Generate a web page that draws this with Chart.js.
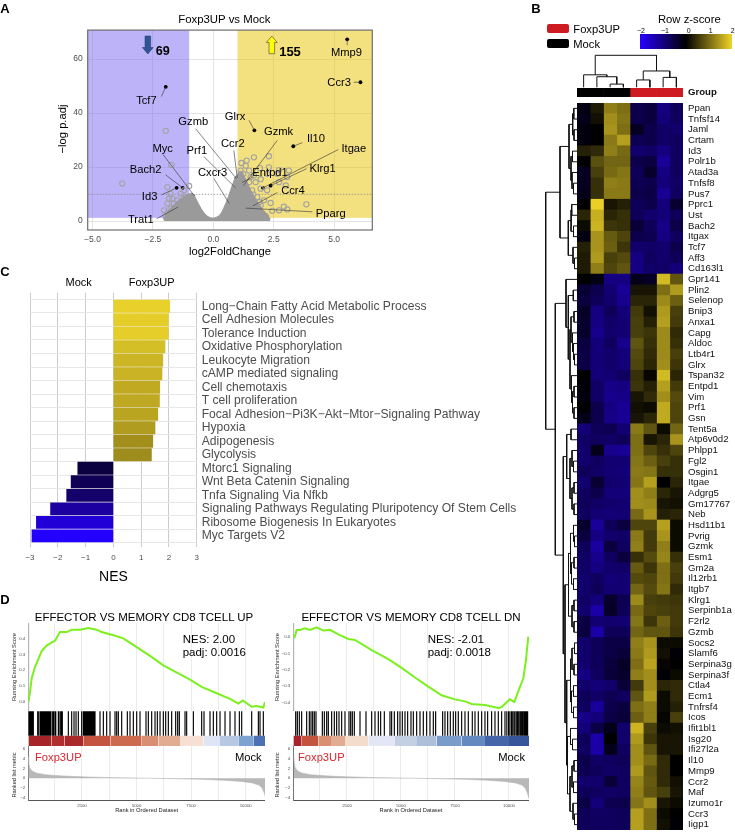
<!DOCTYPE html>
<html>
<head>
<meta charset="utf-8">
<title>Foxp3UP vs Mock</title>
<script src="https://cdn.jsdelivr.net/npm/chart.js@4/dist/chart.umd.js"></script>
<style>
html, body { margin: 0; padding: 0; background: #fff; }
#page { position: relative; width: 735px; height: 832px; overflow: hidden; font-family: "Liberation Sans", Arial, sans-serif; }
#page div { position: absolute; white-space: nowrap; }
#page canvas { position: absolute; }
</style>
</head>
<body>
<div id="page"></div>
<script>
// ---- Panel A, volcano ----
var volcanoGenes = ['Mmp9', 'Ccr3', 'Tcf7', 'Glrx', 'Gzmb', 'Ccr2', 'Prf1', 'Gzmk', 'Entpd1', 'Itgae', 'Klrg1', 'Il10', 'Ccr4', 'Pparg', 'Cxcr3', 'Myc', 'Bach2', 'Id3', 'Trat1'];
var volcanoFC = [5.54, 6.09, -1.97, 1.70, 0.95, 0.99, 0.92, 1.24, 1.19, 2.05, 2.37, 3.31, 1.63, 1.34, 0.66, -0.80, -1.27, -1.52, -1.46];
var volcanoP = [67.3, 51.4, 49.7, 33.6, 15.8, 16.0, 12.3, 13.1, 14.3, 12.3, 13.1, 27.7, 5.6, 4.8, 6.5, 9.5, 12.3, 12.3, 5.2];
var sigFC = [-1.97, -3.77, -1.74, -1.90, -1.00, -1.77, -1.83, -1.70, -1.90, -1.63, -2.04, -1.77, -1.35, -1.56, -1.90, -1.35, -1.21, -1.14, -1.28, -1.49, -1.70, -1.97,
  1.68, 2.30, 1.38, 1.16, 1.93, 2.30, 2.72, 3.13, 1.48, 1.68, 1.34, 1.13, 2.65, 3.06, 3.00, 2.72, 2.23, 1.96, 1.61, 1.48, 1.82, 1.48, 1.41, 2.10, 2.37, 1.96, 3.85, 2.92, 3.06, 2.72, 2.44, 2.17, 1.89, 1.82, 1.13, 1.24, 1.54, 1.75, 1.96, 2.23, 1.65, 1.90, 1.55, 1.70, 1.50];
var sigP = [33.4, 13.9, 20.8, 12.6, 13.0, 10.1, 8.3, 8.3, 6.5, 6.5, 4.0, 4.6, 6.5, 2.8, 2.8, 10.1, 11.4, 8.9, 4.0, 7.7, 1.6, 1.6,
  23.6, 24.0, 22.4, 21.5, 19.6, 19.9, 18.9, 18.7, 18.7, 16.9, 20.5, 18.7, 17.5, 16.3, 13.2, 14.4, 11.4, 12.0, 11.4, 14.4, 8.9, 8.9, 6.5, 7.7, 6.7, 5.9, 6.2, 5.3, 4.3, 4.0, 3.8, 1.8, 2.8, 4.6, 17.5, 17.5, 16.3, 14.4, 15.5, 17.5, 9.8, 7.0, 5.5, 3.5, 3.0];
// outline of the dense cloud of non significant genes
var cloudFC = [-2.06, -1.97, -1.85, -1.65, -1.44, -1.19, -0.94, -0.82, -0.69, -0.44, -0.24, 0, 0.26, 0.43, 0.63, 0.80, 0.96, 1.17, 1.42, 1.59, 1.79, 2.04, 2.25, 2.36];
var cloudP = [0.7, 2.2, 4.0, 5.9, 7.7, 9.2, 10.3, 9.9, 7.7, 3.7, 1.8, 1.1, 2.2, 4.8, 9.2, 13.6, 16.9, 18.0, 14.0, 10.6, 7.7, 4.4, 2.2, 0.7];
var volcanoXTicks = [-5, -2.5, 0, 2.5, 5];
var volcanoYTicks = [0, 20, 40, 60];

// ---- Panel B, heatmap ----
var heatGenes = ['Ppan', 'Tnfsf14', 'Jaml', 'Crtam', 'Id3', 'Polr1b', 'Atad3a', 'Tnfsf8', 'Pus7', 'Pprc1', 'Ust', 'Bach2', 'Itgax', 'Tcf7', 'Aff3', 'Cd163l1', 'Gpr141', 'Plin2', 'Selenop', 'Bnip3', 'Anxa1', 'Capg', 'Aldoc', 'Ltb4r1', 'Glrx', 'Tspan32', 'Entpd1', 'Vim', 'Prf1', 'Gsn', 'Tent5a', 'Atp6v0d2', 'Phlpp1', 'Fgl2', 'Osgin1', 'Itgae', 'Adgrg5', 'Gm17767', 'Neb', 'Hsd11b1', 'Pvrig', 'Gzmk', 'Esm1', 'Gm2a', 'Il12rb1', 'Itgb7', 'Klrg1', 'Serpinb1a', 'F2rl2', 'Gzmb', 'Socs2', 'Slamf6', 'Serpina3g', 'Serpina3f', 'Ctla4', 'Ecm1', 'Tnfrsf4', 'Icos', 'Ifit1bl1', 'Isg20', 'Ifi27l2a', 'Il10', 'Mmp9', 'Ccr2', 'Maf', 'Izumo1r', 'Ccr3', 'Iigp1'];
var heatZ = [
  [-0.15, 0.25, 1.2, 1.05, -0.6, -0.5, -1.0, -0.7],
  [-0.2, 0.15, 1.35, 1.1, -0.6, -0.5, -0.95, -0.75],
  [-0.1, 0, 1.4, 1.05, -0.25, -0.6, -0.8, -0.85],
  [-0.1, 0, 1.15, 1.5, -0.65, -0.6, -0.8, -0.75],
  [0.3, 0.4, 1.2, 1.0, -0.85, -0.8, -1.0, -0.75],
  [0, 0.75, 0.95, 0.95, -0.6, -0.5, -1.2, -0.75],
  [-0.25, 0.6, 1.0, 1.1, -0.7, -0.35, -1.0, -0.75],
  [-0.25, 0.45, 1.2, 1.15, -0.65, -0.6, -0.95, -0.8],
  [-0.2, 0.45, 1.15, 1.15, -0.6, -0.55, -1.15, -0.75],
  [0, 1.95, 0.2, 0.3, -0.7, -0.6, -0.95, -0.35],
  [0.35, 1.65, 0.35, 0.45, -0.7, -0.85, -0.95, -0.7],
  [0.1, 1.7, 0.5, 0.45, -0.45, -0.7, -1.05, -0.55],
  [-0.15, 1.4, 0.85, 0.65, -0.6, -0.65, -1.0, -0.75],
  [0.3, 1.4, 0.9, 0.5, -0.85, -0.8, -0.85, -0.6],
  [0.25, 1.45, 0.6, 0.7, -1.0, -0.75, -0.85, -0.7],
  [0.25, 1.2, 0.65, 0.8, -1.0, -0.8, -0.8, -0.95],
  [0, -0.15, -1.0, -1.0, -0.2, -0.3, 1.75, 0.8],
  [-0.4, -0.6, -0.9, -1.15, 0.2, 0.2, 1.05, 1.45],
  [-0.5, -0.7, -0.85, -1.1, 0.35, 0.35, 1.3, 0.9],
  [-0.3, -1.0, -0.7, -0.95, 0.55, 0.15, 1.45, 0.6],
  [-0.35, -1.0, -0.8, -0.9, 0.6, 0.3, 1.5, 0.55],
  [-0.35, -1.1, -0.85, -0.9, 0.6, 0.5, 1.3, 0.4],
  [-0.5, -0.95, -0.75, -1.1, 0.8, 0.45, 1.3, 0.45],
  [-0.55, -0.95, -0.85, -0.95, 0.7, 0.4, 1.3, 0.6],
  [-0.55, -0.95, -0.85, -0.95, 0.65, 0.35, 1.35, 0.5],
  [0, -0.95, -0.9, -0.75, 0.45, 0.05, 1.75, 0.35],
  [-0.05, -0.8, -1.05, -1.0, 0.5, 0.3, 1.5, 0.55],
  [-0.1, -0.8, -1.1, -1.05, 0.2, 0.4, 1.35, 0.7],
  [0, -0.6, -1.0, -1.15, 0.15, 0.1, 1.6, 0.65],
  [-0.2, -0.6, -1.05, -1.15, 0.2, 0.35, 1.6, 0.65],
  [-0.95, -0.7, -0.65, -0.9, 1.15, 0.8, 0.1, 0.95],
  [-0.8, -0.75, -0.8, -0.7, 1.05, 0.2, 0.35, 1.4],
  [-0.85, -0.2, -1.1, -1.15, 1.05, 0.65, 0.45, 0.65],
  [-0.85, -0.75, -0.9, -0.9, 1.1, 0.9, 0.6, 0.45],
  [-0.7, -0.8, -0.9, -0.95, 1.15, 1.1, 0.45, 0.45],
  [-0.9, -0.4, -0.85, -0.9, 1.1, 1.5, 0, 0.35],
  [-0.75, -0.6, -0.95, -0.95, 1.35, 1.2, 0.35, 0.2],
  [-0.7, -0.8, -0.85, -0.9, 1.35, 1.3, 0.2, 0.15],
  [-0.75, -0.9, -0.95, -0.9, 1.0, 1.4, 0.3, 0.35],
  [-0.35, -1.2, -0.7, -0.5, 0.65, 0.65, 1.5, 0.1],
  [-0.5, -1.0, -0.85, -0.8, 1.15, 0.55, 1.4, 0.1],
  [-0.7, -1.25, -0.5, -0.75, 1.2, 0.55, 1.2, 0.1],
  [-0.8, -1.1, -0.75, -0.5, 0.45, 0.7, 1.25, 0.45],
  [-0.8, -1.0, -0.85, -0.8, 0.85, 0.5, 1.05, 0.6],
  [-0.85, -0.75, -0.95, -0.9, 0.7, 0.65, 1.05, 0.55],
  [-0.85, -0.7, -0.9, -0.9, 0.95, 0.7, 1.1, 0.4],
  [-0.8, -0.95, -0.35, -0.65, 1.3, 0.6, 0.55, 0.5],
  [-0.85, -1.3, -0.3, -0.7, 1.0, 0.65, 0.6, 0.55],
  [-0.55, -0.9, -0.85, -0.9, 1.1, 0.5, 0.9, 0.55],
  [-0.5, -1.3, -0.7, -0.7, 0.95, 0.8, 0.8, 0.5],
  [-0.85, -0.7, -0.55, -0.55, 1.2, 1.4, 0.1, 0.1],
  [-0.85, -0.7, -0.55, -0.45, 1.15, 1.45, 0.15, -0.05],
  [-0.85, -0.7, -0.5, -0.3, 1.05, 1.55, 0.05, 0],
  [-1.0, -0.75, -0.45, -0.35, 1.2, 1.35, -0.05, 0.1],
  [-0.85, -0.95, -0.85, -0.45, 0.55, 1.35, 0.35, 0.4],
  [-0.7, -0.8, -0.65, -0.75, 0.8, 1.45, 0.1, 0.4],
  [-0.75, -1.2, -0.6, -0.5, 1.05, 1.2, 0.1, 0.3],
  [-1.05, -0.95, -0.55, -0.45, 0.9, 1.2, 0.05, 0.6],
  [-0.95, -0.55, -0.2, -0.85, 1.7, 0.6, 0.1, 0.15],
  [-0.7, -1.3, 0, -0.85, 1.45, 0.5, 0.2, 0.2],
  [-0.75, -1.3, -0.2, -0.75, 1.35, 0.8, 0.2, 0.2],
  [-0.6, -0.8, -0.75, -0.7, 1.35, 1.0, 0.4, 0],
  [-0.65, -0.7, -0.8, -0.75, 1.45, 0.8, 0.4, 0],
  [-0.85, -0.85, -0.45, -0.75, 1.25, 0.85, 0.4, 0.15],
  [-0.7, -0.75, -0.8, -0.75, 1.2, 0.8, 0.6, 0.2],
  [-0.55, -0.95, -0.65, -0.6, 1.1, 1.35, 0.2, 0.1],
  [-0.7, -0.75, -0.75, -0.7, 1.5, 1.05, 0.1, 0],
  [-0.7, -0.75, -0.75, -0.7, 1.5, 1.05, 0.15, -0.05]
];
// dendrograms: [height, child, child], a plain number is a leaf index
var colTree = [1, [0.39, 0, [0.33, 1, [0.10, 2, 3]]], [0.51, [0.23, 4, 5], [0.31, 6, 7]]];
var rowTree = [31.3,
  [17,
    [8, [4.3, [3.2, 0, 1], [3, 2, 3]], [6, [4.5, 4, 5], [5, 6, [3.5, 7, 8]]]],
    [8.7, [6, [5.3, 9, 10], [3.5, 11, 12]], [4, 13, [2.5, 14, 15]]]
  ],
  [21.7,
    [11, 16,
      [8.7, [3.7, 17, 18],
        [7,
          [6, [3, 19, 20], [4.5, 21, [3.5, 22, [2.5, 23, 24]]]],
          [5.5, 25, [4.5, [3, 26, 27], [3, 28, 29]]]
        ]
      ]
    ],
    [13.7,
      [10.3, [6, 30, 31], [7, [5, 32, [3.5, 33, 34]], [5, [3, 35, 36], [3, 37, 38]]]],
      [12,
        [8.5, [6.5, [3.5, 39, [2.5, 40, 41]], [5.5, [3, 42, 43], [3.5, 44, 45]]], [5, [3, 46, 47], [3, 48, 49]]],
        [10.3,
          [6.5, [5, [2.5, 50, 51], [3, 52, 53]], [5.5, [3.5, 54, 55], [3.5, 56, 57]]],
          [9.5, [6.5, 58, [4.5, 59, 60]], [7, [5, [3, 61, 62], [3.5, 63, 64]], [4, 65, [2.5, 66, 67]]]]
        ]
      ]
    ]
  ]
];

// ---- Panel C, NES bars ----
var pathways = ['Long\u2212Chain Fatty Acid Metabolic Process', 'Cell Adhesion Molecules', 'Tolerance Induction', 'Oxidative Phosphorylation', 'Leukocyte Migration', 'cAMP mediated signaling', 'Cell chemotaxis', 'T cell proliferation', 'Focal Adhesion\u2212Pi3K\u2212Akt\u2212Mtor\u2212Signaling Pathway', 'Hypoxia', 'Adipogenesis', 'Glycolysis', 'Mtorc1 Signaling', 'Wnt Beta Catenin Signaling', 'Tnfa Signaling Via Nfkb', 'Signaling Pathways Regulating Pluripotency Of Stem Cells', 'Ribosome Biogenesis In Eukaryotes', 'Myc Targets V2'];
var nesValues = [2.03, 1.98, 1.98, 1.86, 1.78, 1.75, 1.67, 1.66, 1.60, 1.50, 1.42, 1.37, -1.28, -1.52, -1.68, -2.26, -2.77, -2.93];
var nesTicks = [-3, -2, -1, 0, 1, 2, 3];

// ---- Panel D, GSEA ----
var upRanks = [43, 119, 196, 348, 501, 654, 883, 1112, 1265, 1494, 1799, 2028, 2410, 2792, 3173, 3402, 3937, 4395, 5006, 5617, 6227, 6914, 7449, 7983, 8670, 9281, 9663, 9862, 10274, 10503, 10656, 10808, 10880];
var upScore = [0, 0.06, 0.15, 0.22, 0.27, 0.32, 0.355, 0.375, 0.385, 0.44, 0.44, 0.455, 0.455, 0.465, 0.455, 0.44, 0.42, 0.40, 0.345, 0.29, 0.23, 0.18, 0.14, 0.095, 0.055, 0.02, -0.01, 0.01, -0.03, -0.025, -0.03, -0.035, 0];
var upHits = [43, 89, 135, 180, 226, 272, 471, 500, 577, 620, 654, 700, 730, 780, 806, 850, 883, 920, 959, 1000, 1035, 1080, 1158, 1200, 1265, 1300, 1417, 1450, 1524, 1560, 1600, 1875, 2028, 2135, 2227, 2333, 2486, 2563, 2600, 2639, 2680, 2715, 2750, 2792, 2830, 2868, 2905, 2944, 2980, 3021, 3060, 3097, 3326, 3479, 3631, 3784, 4013, 4090, 4166, 4319, 4578, 4700, 4853, 5006, 5158, 5433, 5540, 5693, 5846, 5953, 6075, 6227, 6334, 6456, 6609, 6792, 6884, 6960, 7220, 7296, 7602, 7983, 8090, 8365, 8518, 8670, 8823, 9052, 9281, 9510, 9709, 9816, 10274, 10580, 10656, 10808];
var dnRanks = [62, 170, 324, 556, 787, 1096, 1404, 1713, 2099, 2562, 2870, 3642, 4413, 5030, 5648, 6265, 6882, 7499, 7962, 8271, 8888, 9505, 9659, 10045, 10246, 10508, 10662, 10785, 10893];
var dnScore = [-0.008, 0.043, 0.043, 0.053, 0.043, 0.059, 0.039, 0.043, 0.016, -0.012, -0.018, -0.08, -0.135, -0.188, -0.247, -0.302, -0.355, -0.38, -0.392, -0.408, -0.414, -0.433, -0.427, -0.38, -0.396, -0.304, -0.253, -0.141, 0.002];
var dnHits = [124, 201, 293, 401, 633, 756, 833, 910, 988, 1065, 1358, 1451, 1559, 1636, 1790, 1913, 2021, 2130, 2253, 2407, 2592, 2670, 2747, 2839, 3102, 3379, 3642, 3796, 3950, 4058, 4228, 4490, 4567, 4691, 4845, 4953, 5061, 5185, 5308, 5462, 5570, 5725, 5879, 6033, 6188, 6342, 6496, 6604, 6928, 7036, 7160, 7283, 7422, 7530, 7653, 7808, 7962, 8116, 8301, 8425, 8579, 8734, 8888, 9011, 9196, 9351, 9505, 9659, 9814, 9900, 9980, 10045, 10120, 10180, 10246, 10320, 10380, 10431, 10500, 10555, 10610, 10662, 10720, 10770, 10820, 10863];
var metricRanks = [41, 60, 100, 200, 400, 800, 1500, 2500, 3500, 5000, 6000, 7000, 8000, 9000, 9800, 10300, 10600, 10750, 10850, 10926];
var metricValues = [4.5, 3.2, 2.2, 1.55, 1.1, 0.75, 0.5, 0.3, 0.18, 0.05, -0.03, -0.1, -0.22, -0.4, -0.65, -0.95, -1.4, -2, -3, -4.2];
var rankTicks = [1250, 2500, 3750, 5000, 6250, 7500, 8750, 10000];
var metricTicks = [-4, -2, 0, 2, 4, 6];
var upRibbonEdges = [41, 1100, 1700, 2563, 3800, 5235, 6000, 6990, 8060, 8823, 9663, 10350, 10884];
var dnRibbonEdges = [14, 401, 1173, 1800, 2407, 3487, 4722, 5700, 6650, 7800, 8888, 10000, 10926];

// ---- styles ----
var nesColors = ['#E9D12B', '#E6CE2A', '#E6CE2A', '#D5BF27', '#CDB625', '#CAB325', '#C0AA22', '#BFA922', '#BAA521', '#B09C1F', '#A3901C', '#9E8C1C', '#0B0040', '#100055', '#14006A', '#1C00A0', '#2100D8', '#2300FF'];
var upRibbonColors = ['#A52528', '#AE2F2E', '#A9292B', '#C3553F', '#CC6A50', '#D98F72', '#E2AC93', '#F5E0D3', '#DFE4F6', '#B7C9E2', '#7FA3D0', '#4C72B5'];
var dnRibbonColors = ['#A8232B', '#C2533C', '#D98F72', '#E2AC93', '#F3DCCB', '#E2E6F5', '#C3D0E4', '#AEC0D9', '#7A9CCB', '#6489C1', '#4565A8', '#37559A'];
var smallDots = ['Cxcr3', 'Pparg', 'Trat1', 'Myc'];
// label centre and leader start, as pixel offsets from the labelled point
var labelOffsets = {
  Mmp9: [-0.7, 13.7, 0, 6], Ccr3: [-21.3, 0.3, -6.7, 0], Tcf7: [-19.3, 13.7, -4.3, 9.7], Glrx: [-19.4, -13, -5.4, -10],
  Gzmb: [-43, -56.3, -40.7, -49.7], Ccr2: [-4.4, -33.6, -3.4, -27.3], Prf1: [-38.7, -36.6, -31.7, -31.3], Gzmk: [35.3, -53.3, 34, -45.3],
  Entpd1: [28, -9.3, 10.4, -5.3], Itgae: [91, -39.3, 75.4, -38.3], Klrg1: [52, -16.3, 36, -17], Il10: [22.6, -7, 9, -3.6],
  Ccr4: [40.3, -14.7, 24.7, -13.4], Pparg: [85, 5.3, 66.7, 3.7], Cxcr3: [-16.7, -30.3, -15.4, -25], Myc: [-31.3, -47, -31, -41],
  Bach2: [-37, -18, -17, -13], Id3: [-27, 8.7, -15, 7], Trat1: [-37.3, 13.3, -21.3, 11.6]
};
var greyText = '#4d4d4d';

Chart.defaults.font.family = '"Liberation Sans", Arial, sans-serif';
Chart.defaults.animation = false;
Chart.defaults.responsive = false;
Chart.defaults.plugins.legend.display = false;
Chart.defaults.plugins.tooltip.enabled = false;

var page = document.getElementById('page');

function place(x, y, w, h) {
  var c = document.createElement('canvas');
  c.width = w;
  c.height = h;
  c.style.left = x + 'px';
  c.style.top = y + 'px';
  page.appendChild(c);
  return c.getContext('2d');
}

function text(str, x, y, size, opts) {
  opts = opts || {};
  var d = document.createElement('div');
  d.textContent = str;
  var shift = opts.align === 'left' ? '0' : opts.align === 'right' ? '-100%' : '-50%';
  d.style.cssText = 'left:' + x + 'px;top:' + y + 'px;font-size:' + size + 'px;line-height:1;color:' + (opts.color || '#000') +
    ';font-weight:' + (opts.bold ? 'bold' : 'normal') + ';transform:translate(' + shift + ',-50%)' + (opts.rotate ? ' rotate(-90deg)' : '');
  page.appendChild(d);
}

// fix the axis box and drop the room Chart.js keeps for overhanging labels
function fixWidth(w) { return function (s) { s.width = w; s.paddingTop = 0; s.paddingBottom = 0; }; }
function fixHeight(h) { return function (s) { s.height = h; s.paddingLeft = 0; s.paddingRight = 0; }; }
function setTicks(vals) { return function (s) { s.ticks = vals.map(function (v) { return { value: v }; }); }; }
function minus(v) { return String(v).replace('-', '\u2212'); }
function pairs(xs, ys) { return xs.map(function (x, i) { return { x: x, y: ys[i] }; }); }

// same colour scale as the key, blue - black - yellow
function zColor(z) {
  var t = Math.min(Math.abs(z) / 2, 1);
  if (z < 0) return 'rgb(' + Math.round(40 * t) + ',0,' + Math.round(255 * t) + ')';
  return 'rgb(' + Math.round(240 * t) + ',' + Math.round(212 * t) + ',' + Math.round(40 * t) + ')';
}

// turn a nested tree into a broken line, [leaf position, height] pairs
function treePoints(node, pts) {
  if (typeof node === 'number') return { pos: node, h: 0 };
  var a = treePoints(node[1], pts), b = treePoints(node[2], pts);
  pts.push([a.pos, a.h], [a.pos, node[0]], [b.pos, node[0]], [b.pos, b.h], null);
  return { pos: (a.pos + b.pos) / 2, h: node[0] };
}

// ---- A: volcano ----
var volcanoDecor = {
  id: 'volcanoDecor',
  beforeDatasetsDraw: function (chart) {
    var c = chart.ctx, a = chart.chartArea, x = chart.scales.x, y = chart.scales.y;
    var lo = y.getPixelForValue(1.2);
    c.save();
    c.fillStyle = 'rgba(123,103,241,0.5)';
    c.fillRect(a.left, a.top, x.getPixelForValue(-1) - a.left, lo - a.top);
    c.fillStyle = 'rgba(231,193,0,0.5)';
    c.fillRect(x.getPixelForValue(1), a.top, a.right - x.getPixelForValue(1), lo - a.top);
    c.strokeStyle = '#8c8c8c';
    c.lineWidth = 0.8;
    c.setLineDash([1.5, 1.5]);
    c.beginPath();
    c.moveTo(a.left, y.getPixelForValue(9.9));
    c.lineTo(a.right, y.getPixelForValue(9.9));
    c.stroke();
    c.restore();
  },
  afterDatasetsDraw: function (chart) {
    var c = chart.ctx, a = chart.chartArea, x = chart.scales.x, y = chart.scales.y;
    c.save();
    c.strokeStyle = '#6e6e6e';
    c.lineWidth = 1.2;
    c.strokeRect(a.left, a.top, a.right - a.left, a.bottom - a.top);
    c.font = '11.2px "Liberation Sans", Arial';
    c.textAlign = 'center';
    c.textBaseline = 'middle';
    volcanoGenes.forEach(function (g, i) {
      var px = x.getPixelForValue(volcanoFC[i]), py = y.getPixelForValue(volcanoP[i]), o = labelOffsets[g];
      c.strokeStyle = '#333';
      c.lineWidth = 0.6;
      c.beginPath();
      c.moveTo(px + o[2], py + o[3]);
      c.lineTo(px, py);
      c.stroke();
      c.fillStyle = '#000';
      c.fillText(g, px + o[0], py + o[1]);
    });
    // direction arrows
    c.fillStyle = '#2F5597';
    c.strokeStyle = '#1f3864';
    c.lineWidth = 0.5;
    c.beginPath();
    [[145, 36], [150.6, 36], [150.6, 47.5], [153.2, 47.5], [147.8, 54], [142.4, 47.5], [145, 47.5]].forEach(function (p) { c.lineTo(p[0], p[1] - 25); });
    c.closePath(); c.fill(); c.stroke();
    c.fillStyle = '#FFFF00';
    c.strokeStyle = '#555';
    c.lineWidth = 0.7;
    c.beginPath();
    [[269, 53.7], [274.6, 53.7], [274.6, 42.5], [277.3, 42.5], [271.8, 36.2], [266.3, 42.5], [269, 42.5]].forEach(function (p) { c.lineTo(p[0], p[1] - 25); });
    c.closePath(); c.fill(); c.stroke();
    c.restore();
  }
};

new Chart(place(0, 25, 378, 230), {
  type: 'scatter',
  data: {
    datasets: [
      { data: pairs(cloudFC, cloudP), showLine: true, fill: 'origin', backgroundColor: '#9a9a9a', borderColor: '#9a9a9a', borderWidth: 1, pointRadius: 0, tension: 0.3 },
      { data: pairs(sigFC, sigP), pointRadius: 2.6, borderColor: '#a3a3a3', borderWidth: 1.1, backgroundColor: 'rgba(0,0,0,0)' },
      {
        data: pairs(volcanoFC, volcanoP), backgroundColor: '#000', borderWidth: 0,
        pointRadius: function (ctx) { return smallDots.indexOf(volcanoGenes[ctx.dataIndex]) >= 0 ? 0.9 : 1.9; }
      }
    ]
  },
  options: {
    layout: { padding: { left: 0, right: 5.7, top: 3.3, bottom: 0 } },
    scales: {
      x: {
        min: -5.2, max: 6.58, afterBuildTicks: setTicks(volcanoXTicks), afterFit: fixHeight(25),
        grid: { color: '#e4e4e4', lineWidth: 1, drawTicks: false },
        border: { display: false },
        ticks: { padding: 5, color: greyText, font: { size: 8.5 }, maxRotation: 0, callback: function (v) { return minus(v.toFixed(1)); } }
      },
      y: {
        min: -3.3, max: 70.7, afterBuildTicks: setTicks(volcanoYTicks), afterFit: fixWidth(87.7),
        grid: { color: '#e4e4e4', lineWidth: 1, drawTicks: false },
        border: { display: false },
        ticks: { padding: 5, color: greyText, font: { size: 8.5 } }
      }
    }
  },
  plugins: [volcanoDecor]
});
text('Foxp3UP vs Mock', 224.3, 20, 11.4);
text('log2FoldChange', 230, 251.5, 11.2);
text('\u2212log p.adj', 62.7, 129, 11.2, { rotate: true });
text('69', 162.7, 51, 12.6, { bold: true });
text('155', 290, 50.7, 13, { bold: true });

// ---- B: heatmap ----
function cellBars(labels, rows, fontOpts) {
  var datasets = [];
  for (var c = 0; c < 8; c++) {
    datasets.push({
      data: labels.map(function () { return 1; }),
      backgroundColor: rows.map(function (r) { return r[c]; }),
      borderWidth: 0, categoryPercentage: 1, barPercentage: 1
    });
  }
  return {
    type: 'bar',
    data: { labels: labels, datasets: datasets },
    options: {
      indexAxis: 'y',
      scales: {
        x: { stacked: true, display: false, min: 0, max: 8 },
        y: {
          stacked: true, position: 'right', afterFit: fixWidth(52),
          grid: { display: false, drawTicks: false }, border: { display: false },
          ticks: { autoSkip: false, padding: 5, color: '#111', font: fontOpts }
        }
      }
    }
  };
}

var underlay = {
  id: 'underlay',
  beforeDatasetsDraw: function (chart) {
    var a = chart.chartArea;
    chart.ctx.fillStyle = '#0b0a20';
    chart.ctx.fillRect(a.left, a.top, a.right - a.left, a.bottom - a.top);
  }
};
var heatCfg = cellBars(heatGenes, heatZ.map(function (r) { return r.map(zColor); }), { size: 9.6 });
heatCfg.plugins = [underlay];
new Chart(place(577, 103, 158, 727), heatCfg);

var groupCfg = cellBars(['Group'], [['#000', '#000', '#000', '#000', '#CE1A21', '#CE1A21', '#CE1A21', '#CE1A21']], { size: 9.6, weight: 'bold' });
groupCfg.options.layout = { padding: { top: 4, bottom: 4 } };
new Chart(place(577, 84, 158, 17), groupCfg);

function treeChart(tree, x, y, w, h, padding, xScale, yScale, flip) {
  var pts = [];
  treePoints(tree, pts);
  var data = pts.map(function (p) {
    if (!p) return { x: null, y: null };
    return flip ? { x: p[1], y: p[0] } : { x: p[0] + 0.5, y: p[1] };
  });
  new Chart(place(x, y, w, h), {
    type: 'scatter',
    data: { datasets: [{ data: data, showLine: true, borderColor: '#111', borderWidth: 1, pointRadius: 0, clip: false }] },
    options: { layout: { padding: padding }, scales: { x: xScale, y: yScale } }
  });
}
treeChart(colTree, 577, 54, 106, 34, { top: 1.3, bottom: 0.7 }, { display: false, min: 0, max: 8 }, { display: false, min: 0, max: 1 }, false);
treeChart(rowTree, 541, 103, 36, 727, 0, { display: false, min: 0, max: 36, reverse: true }, { display: false, min: -0.5, max: 67.5, reverse: true }, true);

function swatch(x, y, w, h, css) {
  var d = document.createElement('div');
  d.style.cssText = 'left:' + x + 'px;top:' + y + 'px;width:' + w + 'px;height:' + h + 'px;' + css;
  page.appendChild(d);
}
swatch(546.7, 24, 22.3, 8.7, 'background:#CE1A21;border-radius:2px');
swatch(546.7, 39.3, 22.3, 8.4, 'background:#000;border-radius:2px');
text('Foxp3UP', 573.3, 30, 11.2, { align: 'left' });
text('Mock', 573.3, 45, 11.2, { align: 'left' });
text('Row z-score', 689.3, 20, 11.3);
swatch(640, 34.3, 92.3, 14.7, 'background:linear-gradient(to right,#2800ff,#000 50%,#f0d428)');
[[-2, 641], [-1, 665], [0, 688.7], [1, 710.7], [2, 732.7]].forEach(function (t) { text(minus(t[0]), t[1], 29.7, 7); });

// ---- C: NES bars ----
new Chart(place(0, 285, 530, 285), {
  type: 'bar',
  data: {
    datasets: [{
      data: nesValues.map(function (v, i) { return { x: v, y: i }; }),
      backgroundColor: nesColors, barThickness: 12.3, borderWidth: 0
    }]
  },
  options: {
    indexAxis: 'y',
    layout: { padding: { left: 30, top: 7.7 } },
    scales: {
      x: {
        min: -3, max: 3, afterBuildTicks: setTicks(nesTicks), afterFit: fixHeight(23.3),
        grid: { color: '#cccccc', drawTicks: false }, border: { display: false },
        ticks: { padding: 6, color: greyText, font: { size: 8 }, callback: minus }
      },
      y: {
        type: 'linear', position: 'right', reverse: true, offset: false, min: -1, max: 17.8,
        afterBuildTicks: setTicks(pathways.map(function (p, i) { return i; })), afterFit: fixWidth(333.3),
        grid: { color: '#e6e6e6', drawTicks: false }, border: { display: false },
        ticks: { autoSkip: false, padding: 5, color: greyText, font: { size: 12.1 }, callback: function (v) { return pathways[v]; } }
      }
    }
  }
});
text('Mock', 78.7, 281.7, 11);
text('Foxp3UP', 151.7, 281.7, 11);
text('NES', 113.5, 576, 14);

// ---- D: GSEA ----
function gseaPanel(p) {
  var base = 10 + p.shift, yAxisW = p.left - base, w = Math.ceil(p.right - base);
  var rightPad = w - (p.right - base);

  new Chart(place(base, 623, w, 88), {
    type: 'line',
    data: { datasets: [{ data: pairs(p.ranks, p.score), borderColor: '#7CF01E', borderWidth: 2, pointRadius: 0, tension: 0 }] },
    options: {
      layout: { padding: { right: rightPad } },
      scales: {
        x: {
          type: 'linear', min: p.xMin, max: p.xMax, afterBuildTicks: setTicks(rankTicks), afterFit: fixHeight(0.3),
          grid: { color: '#ebebeb', drawTicks: false }, border: { display: false }, ticks: { display: false }
        },
        y: {
          min: p.yMin, max: p.yMax, afterBuildTicks: setTicks(p.scoreTicks), afterFit: fixWidth(yAxisW),
          grid: { display: false, drawTicks: false }, border: { color: '#b5b5b5', width: 1.2 },
          ticks: { padding: 3, color: greyText, font: { size: 4.4 }, callback: function (v) { return minus(v.toFixed(1)); } }
        }
      }
    }
  });

  var hitLines = [];
  p.hits.forEach(function (r) { hitLines.push({ x: r, y: 0.29 }, { x: r, y: 0.99 }, { x: null, y: null }); });
  var sets = [{ data: hitLines, showLine: true, borderColor: '#000', borderWidth: 1.15, pointRadius: 0 }];
  p.ribbonColors.forEach(function (col, i) {
    sets.push({
      data: [{ x: p.ribbonEdges[i], y: 0.29 }, { x: p.ribbonEdges[i + 1], y: 0.29 }],
      showLine: true, fill: 'origin', backgroundColor: col, borderWidth: 0, pointRadius: 0
    });
  });
  new Chart(place(base, 711, w, 35), {
    type: 'scatter',
    data: { datasets: sets },
    options: {
      layout: { padding: { left: yAxisW, right: rightPad } },
      scales: { x: { display: false, min: p.xMin, max: p.xMax }, y: { display: false, min: 0, max: 1 } }
    }
  });

  new Chart(place(base, 746, w, 66), {
    type: 'line',
    data: { datasets: [{ data: pairs(metricRanks, metricValues), fill: 'origin', backgroundColor: '#b8b8b8', borderColor: '#b8b8b8', borderWidth: 0.6, pointRadius: 0 }] },
    options: {
      layout: { padding: { right: rightPad } },
      scales: {
        x: {
          type: 'linear', min: p.xMin, max: p.xMax, afterBuildTicks: setTicks(rankTicks), afterFit: fixHeight(11.5),
          grid: { color: '#ebebeb', drawTicks: false }, border: { color: '#555', width: 1 },
          ticks: { padding: 2.5, autoSkip: false, maxRotation: 0, color: greyText, font: { size: 4.3 }, callback: function (v) { return v % 2500 === 0 ? v : ''; } }
        },
        y: {
          min: -4.56, max: 6.63, afterBuildTicks: setTicks(metricTicks), afterFit: fixWidth(yAxisW),
          grid: { display: false, drawTicks: false }, border: { color: '#777', width: 1 },
          ticks: { padding: 3, color: greyText, font: { size: 4.4 }, callback: minus }
        }
      }
    }
  });

  text(p.title, p.titleX, 617.7, 11.5);
  text(p.nes, p.noteX, 640, 11.5, { align: 'left' });
  text(p.padj, p.noteX, 653, 11.5, { align: 'left' });
  text('Foxp3UP', p.foxX, 757.7, 11.2, { align: 'left', color: '#D7282F' });
  text('Mock', p.mockX, 757.7, 11.2, { align: 'right' });
  text('Running Enrichment Score', p.titleAxisX, 667, 5.7, { rotate: true, color: '#222' });
  text('Ranked list metric', p.titleAxisX, 775, 5.7, { rotate: true, color: '#222' });
  text('Rank in Ordered Dataset', p.rankX, 810.7, 5.7, { color: '#222' });
}

gseaPanel({
  shift: 0, left: 28.3, right: 265, xMin: 41, xMax: 10884, yMin: -0.055, yMax: 0.497,
  ranks: upRanks, score: upScore, hits: upHits, scoreTicks: [0, 0.1, 0.2, 0.3, 0.4],
  ribbonEdges: upRibbonEdges, ribbonColors: upRibbonColors,
  title: 'EFFECTOR VS MEMORY CD8 TCELL UP', titleX: 144, nes: 'NES: 2.00', padj: 'padj: 0.0016',
  noteX: 182.7, foxX: 35, mockX: 261.7, titleAxisX: 14.7, rankX: 146.7
});
gseaPanel({
  shift: 265, left: 293.3, right: 529, xMin: 14, xMax: 10926, yMin: -0.449, yMax: 0.085,
  ranks: dnRanks, score: dnScore, hits: dnHits, scoreTicks: [0, -0.1, -0.2, -0.3, -0.4],
  ribbonEdges: dnRibbonEdges, ribbonColors: dnRibbonColors,
  title: 'EFFECTOR VS MEMORY CD8 TCELL DN', titleX: 411, nes: 'NES: -2.01', padj: 'padj: 0.0018',
  noteX: 427.7, foxX: 298, mockX: 525, titleAxisX: 277.7, rankX: 411
});

text('A', 5, 8.3, 13, { bold: true });
text('B', 536, 7.5, 13, { bold: true });
text('C', 5, 271, 13, { bold: true });
text('D', 5, 599, 13, { bold: true });
</script>
</body>
</html>
